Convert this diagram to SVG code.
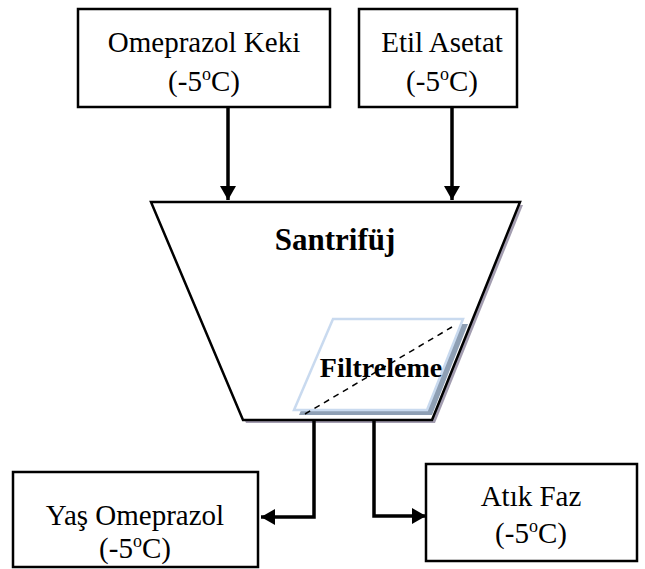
<svg xmlns="http://www.w3.org/2000/svg" width="645" height="569" viewBox="0 0 645 569">
  <style>
    .box { fill: #ffffff; stroke: #000000; stroke-width: 2.5; }
    .lbl { font-family: "Liberation Serif", "Times New Roman", serif; font-size: 29px; fill: #000000; text-anchor: middle; }
    .bold { font-family: "Liberation Serif", "Times New Roman", serif; font-weight: bold; fill: #000000; text-anchor: middle; }
    .sup { font-size: 18px; }
    .flow { fill: none; stroke: #000000; stroke-width: 3.5; }
  </style>
  <defs>
    <marker id="head" viewBox="0 0 14 16" refX="14" refY="8" markerWidth="14" markerHeight="16" markerUnits="userSpaceOnUse" orient="auto">
      <path d="M0,0 L14,8 L0,16 Z" fill="#000000"/>
    </marker>
  </defs>

  <!-- feed: omeprazole cake -->
  <g id="omeprazol-keki">
    <rect class="box" x="78" y="9" width="252" height="98"/>
    <text class="lbl" x="204" y="52">Omeprazol Keki</text>
    <text class="lbl" x="204" y="91">(-5<tspan class="sup" dy="-11">o</tspan><tspan dy="11">C)</tspan></text>
  </g>

  <!-- feed: ethyl acetate -->
  <g id="etil-asetat">
    <rect class="box" x="359" y="9" width="158" height="98"/>
    <text class="lbl" x="442" y="52">Etil Asetat</text>
    <text class="lbl" x="442" y="91">(-5<tspan class="sup" dy="-11">o</tspan><tspan dy="11">C)</tspan></text>
  </g>

  <!-- centrifuge body -->
  <g id="santrifuj">
    <polygon points="154,205 523,205 435,423 246,423" fill="#a39db0"/>
    <polygon points="151,202 520,202 432,420 243,420" fill="#ffffff" stroke="#000000" stroke-width="2.5" stroke-linejoin="miter"/>
    <text class="bold" x="335" y="250" font-size="31">Santrifüj</text>
  </g>

  <!-- filter insert -->
  <g id="filtreleme">
    <polygon points="338,324 468,324 432,415 299,415" fill="#8e9fb4"/>
    <polygon points="333,319 463,319 427,410 294,410" fill="#ffffff" stroke="#c9daef" stroke-width="2.5"/>
    <line x1="305" y1="414" x2="452" y2="327" stroke="#000000" stroke-width="1.5" stroke-dasharray="6,5"/>
    <text class="bold" x="381" y="377" font-size="28">Filtreleme</text>
  </g>

  <!-- product: wet omeprazole -->
  <g id="yas-omeprazol">
    <rect class="box" x="13" y="472" width="245" height="95"/>
    <text class="lbl" x="135" y="525">Yaş Omeprazol</text>
    <text class="lbl" x="135" y="558">(-5<tspan class="sup" dy="-11">o</tspan><tspan dy="11">C)</tspan></text>
  </g>

  <!-- product: waste phase -->
  <g id="atik-faz">
    <rect class="box" x="426" y="464" width="211" height="97"/>
    <text class="lbl" x="531" y="506">Atık Faz</text>
    <text class="lbl" x="531" y="543">(-5<tspan class="sup" dy="-11">o</tspan><tspan dy="11">C)</tspan></text>
  </g>

  <!-- connectors -->
  <g id="connectors">
    <path class="flow" d="M228,107 V200" marker-end="url(#head)"/>
    <path class="flow" d="M452,107 V200" marker-end="url(#head)"/>
    <path class="flow" d="M314,421 V517 H261" marker-end="url(#head)"/>
    <path class="flow" d="M374,421 V516 H426" marker-end="url(#head)"/>
  </g>
</svg>
